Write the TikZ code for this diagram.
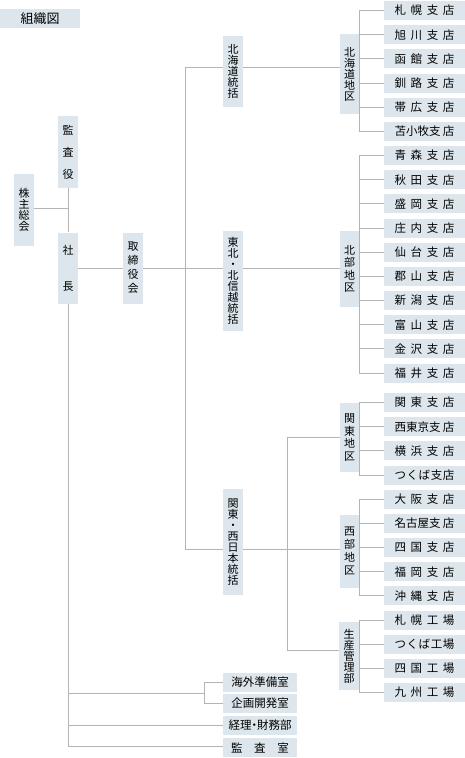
\documentclass[tikz,border=0pt]{standalone}
\usepackage{fontspec}
\newfontfamily\jp{Noto Sans CJK JP}
\definecolor{boxfill}{HTML}{DCE6EC}
\definecolor{linegray}{HTML}{B4B4B4}
\newcommand{\spr}[2][60pt]{\makebox[#1][s]{#2}}
\tikzset{
  orgcell/.style={fill=boxfill, inner sep=0pt, font=\jp\fontsize{11}{11}\selectfont},
  vbox/.style={orgcell, minimum width=20pt, align=center},
  shop/.style={orgcell, minimum width=81pt, minimum height=19pt, font=\jp\fontsize{11.5}{12}\selectfont},
  room/.style={orgcell, minimum width=74pt, minimum height=19pt, font=\jp\fontsize{11.5}{12}\selectfont},
  link/.style={draw=linegray, line width=1pt},
}

\begin{document}
\begin{tikzpicture}[x=1pt,y=-1pt]
                      \useasboundingbox (0,0) rectangle (465,758);
                      \node[room, minimum width=80pt, font=\jp\fontsize{13}{13}\selectfont] (Title) at (40,18.5) {組織図};
                      % left side
                      \node[vbox, minimum height=72pt] (Kansa) at (68,152) {監\\[11pt]査\\[11pt]役};
                      \node[vbox, minimum height=72pt] (Kabu) at (24,210) {株\\主\\総\\会};
                      \node[vbox, minimum height=71pt] (Shacho) at (68,268) {社\\[25pt]長};
                      \node[vbox, minimum height=71pt] (Tori) at (133,268) {取\\[3pt]締\\[3pt]役\\[3pt]会};
                      % regional heads
                      \node[vbox, minimum height=71pt] (Hok) at (233,71.5) {北\\海\\道\\統\\括};
                      \node[vbox, minimum height=100pt] (Tohoku) at (233,281) {東\\北\\・\\北\\信\\越\\統\\括};
                      \node[vbox, minimum height=106pt] (Kansai) at (233,542) {関\\東\\・\\西\\日\\本\\統\\括};
                      % areas
                      \node[vbox, minimum width=19pt, minimum height=80pt] (HokA) at (349.5,74) {北\\海\\道\\地\\区};
                      \node[vbox, minimum width=19pt, minimum height=76pt] (Hokubu) at (349.5,269) {北\\[1.5pt]部\\[1.5pt]地\\[1.5pt]区};
                      \node[vbox, minimum width=19pt, minimum height=69pt] (Kanto) at (349.5,437.5) {関\\[1.5pt]東\\[1.5pt]地\\[1.5pt]区};
                      \node[vbox, minimum width=19pt, minimum height=73pt] (Seibu) at (349.5,551.5) {西\\[2pt]部\\[2pt]地\\[2pt]区};
                      \node[vbox, minimum width=20pt, minimum height=68pt] (Seisan) at (349,656) {生\\産\\管\\理\\部};
                      % branches
                      \node[shop] (S1) at (424.5,10.5) {\spr{札\hfill 幌\hfill 支\hfill 店}};
                      \node[shop] (S2) at (424.5,34.7) {\spr{旭\hfill 川\hfill 支\hfill 店}};
                      \node[shop] (S3) at (424.5,58.8) {\spr{函\hfill 館\hfill 支\hfill 店}};
                      \node[shop] (S4) at (424.5,83.0) {\spr{釧\hfill 路\hfill 支\hfill 店}};
                      \node[shop] (S5) at (424.5,107.2) {\spr{帯\hfill 広\hfill 支\hfill 店}};
                      \node[shop] (S6) at (424.5,131.4) {\spr{苫小牧支\hfill 店}};
                      \node[shop] (S7) at (424.5,155.5) {\spr{青\hfill 森\hfill 支\hfill 店}};
                      \node[shop] (S8) at (424.5,179.7) {\spr{秋\hfill 田\hfill 支\hfill 店}};
                      \node[shop] (S9) at (424.5,203.9) {\spr{盛\hfill 岡\hfill 支\hfill 店}};
                      \node[shop] (S10) at (424.5,228.0) {\spr{庄\hfill 内\hfill 支\hfill 店}};
                      \node[shop] (S11) at (424.5,252.2) {\spr{仙\hfill 台\hfill 支\hfill 店}};
                      \node[shop] (S12) at (424.5,276.4) {\spr{郡\hfill 山\hfill 支\hfill 店}};
                      \node[shop] (S13) at (424.5,300.5) {\spr{新\hfill 潟\hfill 支\hfill 店}};
                      \node[shop] (S14) at (424.5,324.7) {\spr{富\hfill 山\hfill 支\hfill 店}};
                      \node[shop] (S15) at (424.5,348.9) {\spr{金\hfill 沢\hfill 支\hfill 店}};
                      \node[shop] (S16) at (424.5,373.1) {\spr{福\hfill 井\hfill 支\hfill 店}};
                      \node[shop] (S17) at (424.5,402.5) {\spr{関\hfill 東\hfill 支\hfill 店}};
                      \node[shop] (S18) at (424.5,426.7) {\spr{西東京支\hfill 店}};
                      \node[shop] (S19) at (424.5,450.8) {\spr{横\hfill 浜\hfill 支\hfill 店}};
                      \node[shop] (S20) at (424.5,475.0) {\spr{つ\hfill く\hfill ば\hfill 支\hfill 店}};
                      \node[shop] (S21) at (424.5,499.2) {\spr{大\hfill 阪\hfill 支\hfill 店}};
                      \node[shop] (S22) at (424.5,523.4) {\spr{名古屋支\hfill 店}};
                      \node[shop] (S23) at (424.5,547.5) {\spr{四\hfill 国\hfill 支\hfill 店}};
                      \node[shop] (S24) at (424.5,571.7) {\spr{福\hfill 岡\hfill 支\hfill 店}};
                      \node[shop] (S25) at (424.5,595.9) {\spr{沖\hfill 縄\hfill 支\hfill 店}};
                      \node[shop] (S26) at (424.5,620.0) {\spr{札\hfill 幌\hfill 工\hfill 場}};
                      \node[shop] (S27) at (424.5,644.2) {\spr{つ\hfill く\hfill ば\hfill 工\hfill 場}};
                      \node[shop] (S28) at (424.5,668.4) {\spr{四\hfill 国\hfill 工\hfill 場}};
                      \node[shop] (S29) at (424.5,692.5) {\spr{九\hfill 州\hfill 工\hfill 場}};
                      % staff rooms
                      \node[room] (Kaigai) at (260,682.5) {海外準備室};
                      \node[room] (Kikaku) at (260,703.5) {企画開発室};
                      \node[room] (Keiri) at (260,725.5) {経理\kern-3pt・\kern-3pt財務部};
                      \node[room] (Kansashitsu) at (260,747.5) {\spr[58pt]{監\hfill 査\hfill 室}};
                      % joints
                      \coordinate (J0) at (68,208);
                      \coordinate (T0) at (185,67);
                      \coordinate (T1) at (185,549);
                      \coordinate (K0) at (287,437);
                      \coordinate (K1) at (287,650);
                      \coordinate (B0) at (68,746);
                      \coordinate (B1) at (204,693);
                      % connectors
                      \draw[link] (Kabu.east |- J0) -- (J0) (Kansa) -- (Shacho) (Shacho) -- (Tori);
                      \draw[link] (Tori.east) -- (Tohoku.west |- Tori.east)
                        (Tohoku.east |- Tori.east) -- (Hokubu.west |- Tori.east);
                      \draw[link] (T0) -- (T1) (T0) -- (Hok.west |- T0) (Hok.east |- T0) -- (HokA.west |- T0);
                      \draw[link] (T1) -- (Kansai.west |- T1) (Kansai.east |- T1) -- (Seibu.west |- T1);
                      \draw[link] (K0) -- (K1) (K0) -- (Kanto.west |- K0) (K1) -- (Seisan.west |- K1);
                      \draw[link] (S1.west) -| (HokA.east) (S2.west) -| (HokA.east) (S3.west) -| (HokA.east)
                        (S4.west) -| (HokA.east) (S5.west) -| (HokA.east) (S6.west) -| (HokA.east);
                      \draw[link] (S7.west) -| (Hokubu.east) (S8.west) -| (Hokubu.east) (S9.west) -| (Hokubu.east)
                        (S10.west) -| (Hokubu.east) (S11.west) -| (Hokubu.east) (S12.west) -| (Hokubu.east)
                        (S13.west) -| (Hokubu.east) (S14.west) -| (Hokubu.east) (S15.west) -| (Hokubu.east)
                        (S16.west) -| (Hokubu.east);
                      \draw[link] (S17.west) -| (Kanto.east) (S18.west) -| (Kanto.east) (S19.west) -| (Kanto.east)
                        (S20.west) -| (Kanto.east);
                      \draw[link] (S21.west) -| (Seibu.east) (S22.west) -| (Seibu.east) (S23.west) -| (Seibu.east)
                        (S24.west) -| (Seibu.east) (S25.west) -| (Seibu.east);
                      \draw[link] (S26.west) -| (Seisan.east) (S27.west) -| (Seisan.east) (S28.west) -| (Seisan.east)
                        (S29.west) -| (Seisan.east);
                      \draw[link] (Shacho) -- (B0) -- (Kansashitsu.west |- B0);
                      \draw[link] (Shacho.south |- B1) -- (B1) (Kaigai.west) -| (B1) (Kikaku.west) -| (B1);
                      \draw[link] (Shacho.south |- Keiri.west) -- (Keiri.west);
                    \end{tikzpicture}
\end{document}
